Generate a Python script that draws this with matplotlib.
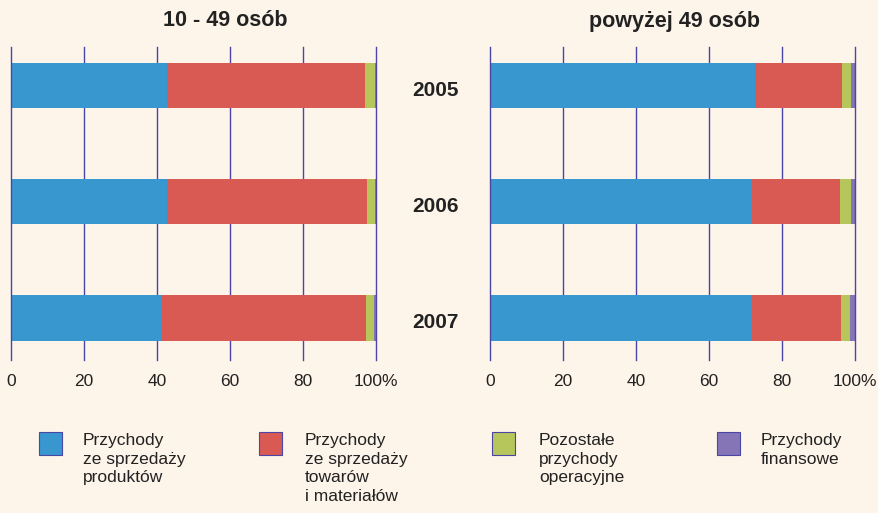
import numpy as np
import matplotlib.pyplot as plt

plt.rcParams['font.family'] = ['Liberation Sans', 'DejaVu Sans']

## DANE
lata = ["2005", "2006", "2007"]
kategorie = ["Przychody\nze sprzedaży\nproduktów",
             "Przychody\nze sprzedaży\ntowarów\ni materiałów",
             "Pozostałe\nprzychody\noperacyjne",
             "Przychody\nfinansowe"]
kolory = ["#3897cf", "#d95a53", "#b6c65b", "#8575b6"]

# 10 - 49 osób, udzial w % (produkty, towary, pozostale, finansowe)
male = {
    "produkty": [42.8, 42.7, 41.4],
    "towary": [54.2, 54.8, 55.9],
    "pozostale": [2.7, 2.2, 2.2],
    "finansowe": [0.3, 0.3, 0.5],
}
# powyzej 49 osob
duze = {
    "produkty": [72.6, 71.8, 71.8],
    "towary": [23.8, 24.1, 24.5],
    "pozostale": [2.5, 3.0, 2.3],
    "finansowe": [1.1, 1.1, 1.4],
}
tytuly = ["10 - 49 osób", "powyżej 49 osób"]

tlo = "#fdf4ea"
siatka = "#4a46a8"
tekst = "#222222"

fig = plt.figure(figsize=(8.79, 5.13), dpi=100, facecolor=tlo)
ax1 = fig.add_axes([11/879, 1-360/513, 365/879, 313/513])
ax2 = fig.add_axes([490/879, 1-360/513, 365/879, 313/513])

y = np.arange(len(lata))
for ax, dane in zip([ax1, ax2], [male, duze]):
    ax.set_facecolor(tlo)
    left = np.zeros(len(lata))
    for (k, v), c in zip(dane.items(), kolory):
        ax.barh(y, v, left=left, height=0.39, color=c, zorder=2)
        left += np.array(v)
    for xv in range(0, 101, 20):
        ax.axvline(xv, color=siatka, lw=1.0, clip_on=False,
                   zorder=3 if xv in (0, 100) else 1)
    ax.set_xlim(0, 100)
    ax.set_ylim(2.36, -0.33)
    ax.set_yticks([])
    ax.set_xticks(range(0, 101, 20))
    ax.set_xticklabels(["0", "20", "40", "60", "80", "100%"], fontsize=12.5, color=tekst)
    ax.tick_params(length=0, pad=10)
    for s in ax.spines.values():
        s.set_visible(False)

# tytuly
fig.text(225/879, 1-21/513, tytuly[0], fontsize=15.5, fontweight="bold",
         color=tekst, ha="center", va="center")
fig.text(675/879, 1-21/513, tytuly[1], fontsize=15.5, fontweight="bold",
         color=tekst, ha="center", va="center")

# etykiety lat miedzy wykresami
for i, rok in enumerate(lata):
    ax1.text(116.3, i + 0.04, rok, fontsize=15, fontweight="bold", color=tekst,
             ha="center", va="center", clip_on=False)

# legenda
kw_x = [39, 259, 492, 717]
tx_x = [83, 305, 539, 761]
for kx, tx, etyk, c in zip(kw_x, tx_x, kategorie, kolory):
    fig.patches.append(plt.Rectangle((kx/879, 1-455/513), 23/879, 23/513,
                                     transform=fig.transFigure, facecolor=c,
                                     edgecolor="#4a46a8", lw=0.8))
    fig.text(tx/879, 1-433/513, etyk, fontsize=12.5, color=tekst,
             va="top", ha="left", linespacing=1.3)

fig.savefig("out.png", dpi=100, facecolor=tlo)
